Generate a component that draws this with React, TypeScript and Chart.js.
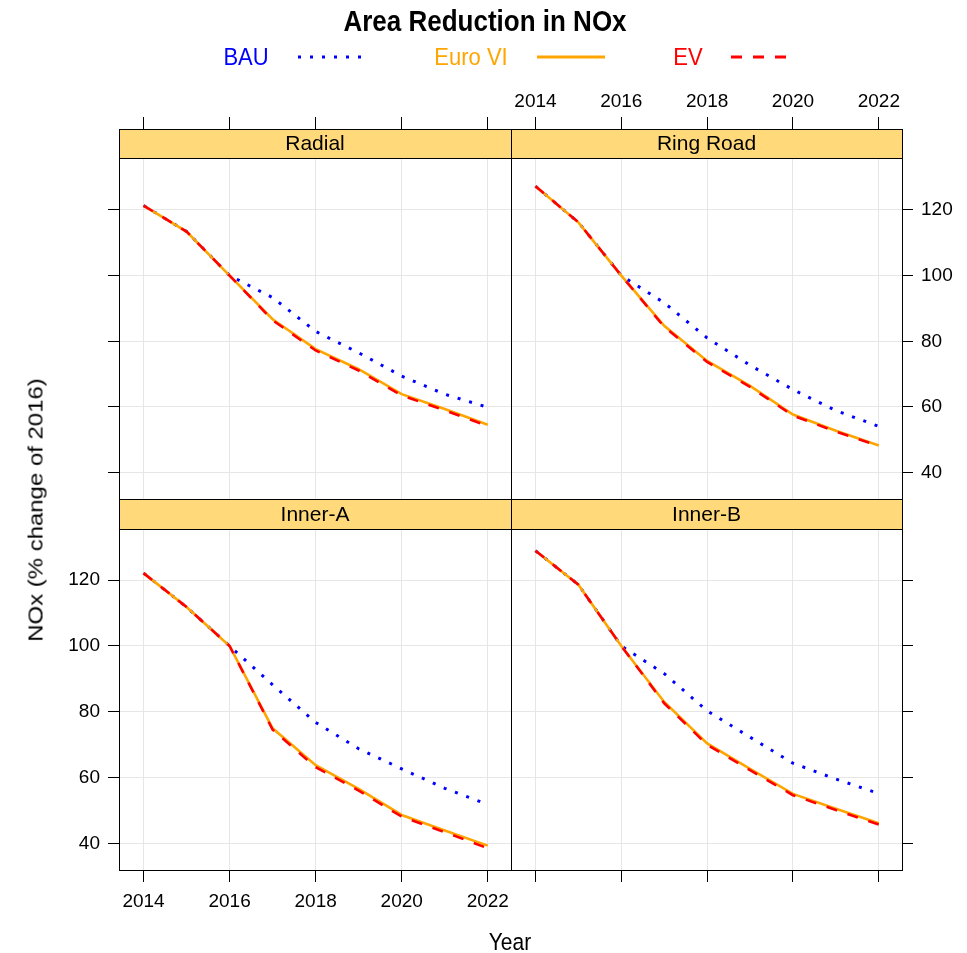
import React, { useEffect, useRef } from "react";
import { Chart, registerables } from "chart.js";
Chart.register(...registerables);

// ---------- data ----------
const years = [2014, 2015, 2016, 2017, 2018, 2019, 2020, 2021, 2022];
const xTickValues = [2014, 2016, 2018, 2020, 2022];
const yTickValues = [40, 60, 80, 100, 120];

const radialBAU = [121.3, 113.4, 100.0, 93.3, 83.0, 76.5, 69.4, 63.9, 59.9];
const radialEuroVI = [121.3, 113.4, 100.0, 86.7, 77.6, 71.5, 63.9, 59.4, 54.6];
const radialEV = [121.3, 113.4, 100.0, 86.4, 77.2, 71.1, 63.5, 59.0, 54.2];

const ringBAU = [127.2, 116.2, 100.0, 91.7, 81.0, 72.7, 65.3, 58.9, 54.1];
const ringEuroVI = [127.2, 116.2, 100.0, 84.7, 74.0, 66.4, 57.7, 52.8, 48.3];
const ringEV = [127.2, 116.2, 100.0, 84.4, 73.7, 66.1, 57.4, 52.5, 48.1];

const innerABAU = [122.1, 111.8, 100.0, 88.2, 76.8, 68.8, 62.7, 56.8, 51.9];
const innerAEuroVI = [122.1, 111.8, 100.0, 75.0, 63.8, 56.6, 48.7, 44.0, 39.4];
const innerAEV = [122.1, 111.8, 100.0, 74.6, 63.2, 56.1, 48.2, 43.5, 38.6];

const innerBBAU = [128.9, 118.6, 100.0, 91.6, 80.3, 72.3, 64.4, 59.6, 55.2];
const innerBEuroVI = [128.9, 118.6, 100.0, 83.0, 70.4, 62.7, 55.1, 50.6, 46.2];
const innerBEV = [128.9, 118.6, 100.0, 82.6, 70.0, 62.3, 54.7, 50.2, 45.8];

const panelNames = ["Radial", "Ring Road", "Inner-A", "Inner-B"];
const seriesNames = ["BAU", "Euro VI", "EV"];

// ---------- styling / layout ----------
const FONT = "'Liberation Sans', Arial, Helvetica, sans-serif";
const W = 967;
const H = 953;
const colEdges = [
  [119, 511],
  [511, 902],
];
const rowEdges = [
  [129, 499],
  [499, 870],
];
const stripHeights = [29, 30];
const Y_MIN = 32;
const Y_MAX = 144.6;
const X_MIN = 2013.43;
const X_MAX = 2022.54;
const STRIP_COLOR = "#FFD97A";
const GRID_COLOR = "#E6E6E6";
const COLORS = { bau: "#0000FF", euro: "#FFA500", ev: "#FF0000" };
const TICK_FONT = 19;

type PanelProps = {
  name: string;
  bau: number[];
  euro: number[];
  ev: number[];
  row: number;
  col: number;
};

function toPoints(vals: number[]) {
  return years.map((y, i) => ({ x: y, y: vals[i] }));
}

function PanelChart({ name, bau, euro, ev, row, col }: PanelProps) {
  const ref = useRef<HTMLCanvasElement>(null);
  useEffect(() => {
    if (!ref.current) return;
    const [left, right] = colEdges[col];
    const [top, bottom] = rowEdges[row];
    const labelled = (row === 0 && col === 1) || (row === 1 && col === 0);
    const xH = labelled ? 45 : 12;
    const yW = labelled ? 60 : 11;
    const stripH = stripHeights[row];
    const padding = {
      left: col === 0 ? left - yW : left,
      right: col === 0 ? W - right : W - right - yW,
      top: row === 0 ? top - xH : top,
      bottom: row === 0 ? H - bottom : H - bottom - xH,
    };
    const stripPlugin = {
      id: "strip" + name,
      beforeDatasetsDraw(chart: any) {
        const { ctx, chartArea: a } = chart;
        ctx.save();
        ctx.fillStyle = STRIP_COLOR;
        ctx.fillRect(a.left, a.top, a.right - a.left, stripH);
        ctx.fillStyle = "#000";
        ctx.font = `21px ${FONT}`;
        ctx.textAlign = "center";
        ctx.textBaseline = "middle";
        ctx.fillText(name, (a.left + a.right) / 2, a.top + stripH / 2 + 1);
        ctx.restore();
      },
      afterDraw(chart: any) {
        const { ctx, chartArea: a } = chart;
        ctx.save();
        ctx.strokeStyle = "#000";
        ctx.lineWidth = 1;
        ctx.strokeRect(a.left + 0.5, a.top + 0.5, a.right - a.left, a.bottom - a.top);
        ctx.beginPath();
        ctx.moveTo(a.left, a.top + stripH + 0.5);
        ctx.lineTo(a.right + 1, a.top + stripH + 0.5);
        ctx.stroke();
        ctx.restore();
      },
    };
    const chart = new Chart(ref.current, {
      type: "line",
      data: {
        datasets: [
          {
            label: seriesNames[0],
            data: toPoints(bau),
            borderColor: COLORS.bau,
            borderWidth: 3,
            borderDash: [3, 9],
            borderCapStyle: "butt",
            pointRadius: 0,
            fill: false,
            order: 2,
          },
          {
            label: seriesNames[1],
            data: toPoints(euro),
            borderColor: COLORS.euro,
            borderWidth: 2.6,
            pointRadius: 0,
            fill: false,
            order: 1,
          },
          {
            label: seriesNames[2],
            data: toPoints(ev),
            borderColor: COLORS.ev,
            borderWidth: 2.6,
            borderDash: [11, 11],
            borderCapStyle: "butt",
            pointRadius: 0,
            fill: false,
            order: 0,
          },
        ],
      },
      options: {
        responsive: false,
        animation: false,
        devicePixelRatio: 1,
        layout: { padding },
        plugins: {
          legend: { display: false },
          title: { display: false },
          tooltip: { enabled: false },
        },
        elements: { line: { tension: 0 } },
        scales: {
          x: {
            type: "linear",
            position: row === 0 ? "top" : "bottom",
            min: X_MIN,
            max: X_MAX,
            afterBuildTicks: (s: any) => {
              s.ticks = xTickValues.map((v) => ({ value: v }));
            },
            afterFit: (s: any) => {
              s.height = xH;
            },
            grid: { color: GRID_COLOR, lineWidth: 1, tickLength: 12, tickColor: "#000", drawTicks: true },
            border: { display: false },
            ticks: {
              display: labelled,
              maxRotation: 0,
              autoSkip: false,
              color: "#000",
              padding: row === 0 ? 4 : 8,
              font: { family: FONT, size: TICK_FONT },
              callback: (v: any) => String(v),
            },
          },
          y: {
            type: "linear",
            position: col === 0 ? "left" : "right",
            min: Y_MIN,
            max: Y_MAX,
            afterBuildTicks: (s: any) => {
              s.ticks = yTickValues.map((v) => ({ value: v }));
            },
            afterFit: (s: any) => {
              s.width = yW;
            },
            grid: { color: GRID_COLOR, lineWidth: 1, tickLength: 11, tickColor: "#000", drawTicks: true },
            border: { display: false },
            ticks: {
              display: labelled,
              color: "#000",
              padding: 8,
              font: { family: FONT, size: TICK_FONT },
              callback: (v: any) => String(v),
            },
          },
        },
      },
      plugins: [stripPlugin],
    } as any);
    return () => chart.destroy();
  }, [name, bau, euro, ev, row, col]);
  return (
    <canvas
      ref={ref}
      width={W}
      height={H}
      style={{ position: "absolute", left: 0, top: 0, width: W, height: H }}
    />
  );
}

function Text({ x, y, children, style, extra = "scaleY(1.12)" }: any) {
  return (
    <div
      style={{
        position: "absolute",
        left: x,
        top: y,
        transform: `translate(-50%, -50%) ${extra}`,
        whiteSpace: "nowrap",
        fontFamily: FONT,
        lineHeight: 1,
        ...style,
      }}
    >
      {children}
    </div>
  );
}

export default function App() {
  const panels = [
    { name: panelNames[0], bau: radialBAU, euro: radialEuroVI, ev: radialEV, row: 0, col: 0 },
    { name: panelNames[1], bau: ringBAU, euro: ringEuroVI, ev: ringEV, row: 0, col: 1 },
    { name: panelNames[2], bau: innerABAU, euro: innerAEuroVI, ev: innerAEV, row: 1, col: 0 },
    { name: panelNames[3], bau: innerBBAU, euro: innerBEuroVI, ev: innerBEV, row: 1, col: 1 },
  ];
  return (
    <div style={{ position: "absolute", left: 0, top: 0, width: W, height: H, background: "#fff", overflow: "hidden" }}>
      {panels.map((p) => (
        <PanelChart key={p.name} {...p} />
      ))}
      <Text x={485} y={21} style={{ fontSize: 26, fontWeight: "bold", color: "#000" }}>
        Area Reduction in NOx
      </Text>
      <Text x={246} y={57} style={{ fontSize: 22, color: COLORS.bau }}>
        {seriesNames[0]}
      </Text>
      <Text x={471} y={57} style={{ fontSize: 22, color: COLORS.euro }}>
        {seriesNames[1]}
      </Text>
      <Text x={688} y={57} style={{ fontSize: 22, color: COLORS.ev }}>
        {seriesNames[2]}
      </Text>
      <svg width={W} height={80} style={{ position: "absolute", left: 0, top: 0 }}>
        <line x1={298} y1={57} x2={362} y2={57} stroke={COLORS.bau} strokeWidth={3} strokeDasharray="3 9" />
        <line x1={537} y1={57} x2={605} y2={57} stroke={COLORS.euro} strokeWidth={3} />
        <line x1={731} y1={57} x2={793} y2={57} stroke={COLORS.ev} strokeWidth={3} strokeDasharray="11 11" />
      </svg>
      <Text x={510} y={942} style={{ fontSize: 21, color: "#000" }}>
        Year
      </Text>
      <Text x={35} y={510} extra="rotate(-90deg) scaleX(1.14)" style={{ fontSize: 21, color: "#000" }}>
        NOx (% change of 2016)
      </Text>
    </div>
  );
}
